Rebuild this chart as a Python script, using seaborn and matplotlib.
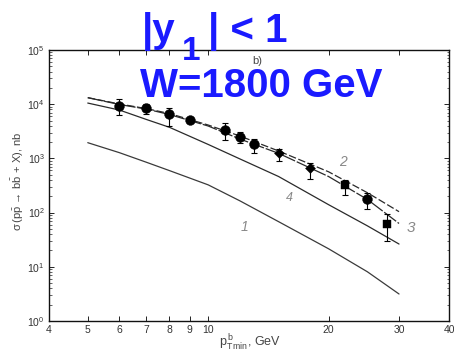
import numpy as np
import pandas as pd
import matplotlib
matplotlib.use("Agg")
import matplotlib.pyplot as plt
import matplotlib.ticker as mticker
import seaborn as sns

# Theory curves: cross section (nb) versus minimal b-quark transverse momentum (GeV)
pt_grid = [5, 6, 7, 8, 10, 12, 15, 20, 25, 30]
curve_1 = [1950, 1275, 851, 596, 325, 165, 68, 21.5, 8.1, 3.15]
curve_2 = [13200, 10100, 8300, 6730, 4130, 2590, 1370, 566, 233, 104]
curve_3 = [13200, 9870, 8140, 6460, 3960, 2280, 1240, 463, 175, 63]
curve_4 = [10500, 7800, 5240, 3750, 1810, 979, 463, 140, 57, 26.3]

# Measured points with asymmetric errors
pt_x = [6, 7, 8, 9, 11, 12, 13, 15, 18, 22, 25, 28]
pt_y = [9380, 8400, 6590, 5180, 3340, 2450, 1820, 1240, 656, 323, 181, 61.6]
pt_lo = [6320, 6590, 3960, 4560, 2185, 1900, 1240, 895, 411, 211, 116, 30]
pt_hi = [12300, 10200, 8610, 5880, 4450, 3070, 2250, 1470, 833, 399, 227, 93]
pt_shape = ["circle", "circle", "circle", "circle", "circle", "circle", "circle",
            "diamond", "diamond", "square", "circle", "square"]

x_ticks = [4, 5, 6, 7, 8, 9, 10, 20, 30, 40]

sns.set_style("ticks")
plt.rcParams["font.family"] = ["Liberation Sans", "DejaVu Sans"]
plt.rcParams["mathtext.fontset"] = "custom"
plt.rcParams["mathtext.rm"] = "Liberation Sans"
plt.rcParams["mathtext.it"] = "Liberation Sans:italic"

fig = plt.figure(figsize=(4.54, 3.64), dpi=100)
ax = fig.add_axes([49 / 454, 1 - 321 / 364, 400 / 454, 271 / 364])
ax.set_xscale("log")
ax.set_yscale("log")

line_col = "#2a2a2a"
sns.lineplot(x=pt_grid, y=curve_1, ax=ax, color="#3a3a3a", lw=0.9)
sns.lineplot(x=pt_grid, y=curve_4, ax=ax, color=line_col, lw=0.9)
sns.lineplot(x=pt_grid, y=curve_3, ax=ax, color=line_col, lw=0.9,
             linestyle=(0, (12, 1.5)))
sns.lineplot(x=pt_grid, y=curve_2, ax=ax, color=line_col, lw=0.9,
             linestyle=(0, (6, 2)))

yerr = [np.array(pt_y) - np.array(pt_lo), np.array(pt_hi) - np.array(pt_y)]
ax.errorbar(pt_x, pt_y, yerr=yerr, fmt="none", ecolor="black",
            elinewidth=0.8, capsize=2.2, capthick=0.8)

pts = pd.DataFrame({"x": pt_x, "y": pt_y, "shape": pt_shape})
sizes = {"circle": 50, "diamond": 26, "square": 36}
for shape, mk in [("circle", "o"), ("diamond", "D"), ("square", "s")]:
    sub = pts[pts["shape"] == shape]
    sns.scatterplot(data=sub, x="x", y="y", ax=ax, marker=mk,
                    s=sizes[shape], color="black",
                    edgecolor="black", linewidth=0.3, zorder=5)

ax.set_xlim(4, 40)
ax.set_ylim(1, 1e5)
ax.set_xlabel("")
ax.set_ylabel("")

ax.xaxis.set_major_locator(mticker.FixedLocator(x_ticks))
ax.xaxis.set_major_formatter(mticker.FixedFormatter([str(t) for t in x_ticks]))
ax.xaxis.set_minor_locator(mticker.NullLocator())
ax.yaxis.set_major_locator(mticker.LogLocator(base=10, numticks=10))
ax.yaxis.set_minor_locator(mticker.LogLocator(base=10, subs=np.arange(2, 10), numticks=10))
ax.yaxis.set_minor_formatter(mticker.NullFormatter())

ax.tick_params(which="both", direction="in", top=True, right=True,
               labelsize=7.5, labelcolor="#333333", color="#222222")
ax.tick_params(which="major", length=3.5, width=0.7, pad=3)
ax.tick_params(which="minor", length=1.8, width=0.5)
for sp in ax.spines.values():
    sp.set_visible(True)
    sp.set_linewidth(1.0)
    sp.set_color("#111111")

# curve numbers and panel tag
lab_kw = dict(color="#888888", style="italic", fontsize=10, ha="center", va="center")
ax.text(21.7, 869, "2", **lab_kw)
ax.text(16.0, 188, "4", **dict(lab_kw, fontsize=9))
ax.text(12.36, 55, "1", **lab_kw)
ax.text(32.1, 51.3, "3", **dict(lab_kw, fontsize=11))
ax.text(13.3, 62000, "b)", color="#444444", fontsize=8, ha="center", va="center")

# axis titles
fig.text(18 / 454, 1 - 181 / 364,
         r"$\mathrm{\sigma\,(p\bar{p}\,\rightarrow\,b\bar{b}\,+\,X)}$, nb",
         rotation=90, ha="center", va="center", fontsize=8, color="#444444")
fig.text(250 / 454, 1 - 343 / 364, r"$\mathrm{p^{\,b}_{T\,min}}$, GeV",
         ha="center", va="center", fontsize=9, color="#444444")

# kinematic region headings
blue = "#1a1aff"
hk = dict(color=blue, fontweight="bold", ha="left", va="baseline")
fig.text(142 / 454, 1 - 42 / 364, "|y", fontsize=29, **hk)
fig.text(182 / 454, 1 - 60 / 364, "1", fontsize=24, **hk)
fig.text(208 / 454, 1 - 42 / 364, "| < 1", fontsize=29, **hk)
fig.text(140 / 454, 1 - 97 / 364, "W=1800 GeV", fontsize=29, **hk)

fig.savefig("out.png", dpi=100)
